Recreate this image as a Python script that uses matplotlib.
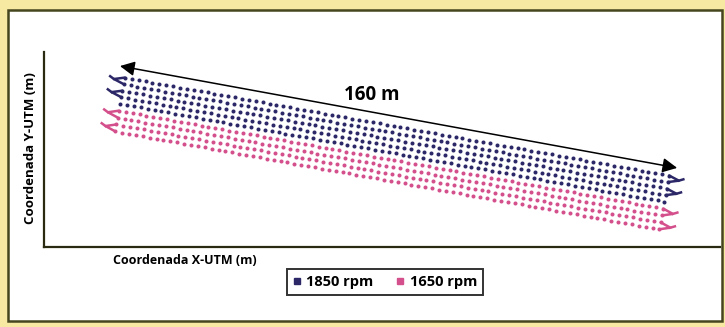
import numpy as np
import matplotlib
matplotlib.use("Agg")
import matplotlib.pyplot as plt
from matplotlib.patches import Rectangle

# ---- data (metres, relative UTM) ----
# along-track positions of GPS fixes on each pass (m)
stations = [0, 2, 4, 6, 8, 10, 12, 14, 16, 18, 20, 22, 24, 26, 28, 30, 32, 34, 36, 38,
            40, 42, 44, 46, 48, 50, 52, 54, 56, 58, 60, 62, 64, 66, 68, 70, 72, 74, 76, 78,
            80, 82, 84, 86, 88, 90, 92, 94, 96, 98, 100, 102, 104, 106, 108, 110, 112, 114,
            116, 118, 120, 122, 124, 126, 128, 130, 132, 134, 136, 138, 140, 142, 144, 146,
            148, 150, 152, 154, 156, 158]
# cross-track offset of each pass (m)
offsets_1850 = [0.0, -1.9, -3.8, -5.7, -7.6]
offsets_1650 = [-9.6, -11.6, -13.6, -15.6]
series_labels = ["1850 rpm", "1650 rpm"]
colors = ["#2c2868", "#d4508c"]
start_xy = (23.1, 48.4)      # start of first pass (m)
heading_deg = 10.2           # pass heading below east (deg)
turn_out = 3.0               # headland turn bulge (m)
dist_label = "160 m"

# ---- figure ----
W, H = 725, 327
fig = plt.figure(figsize=(W / 100, H / 100), dpi=100)
fig.patch.set_facecolor("#f7e9a2")
fig.add_artist(Rectangle((8 / W, 1 - 321 / H), (722 - 8) / W, (321 - 10) / H,
                         transform=fig.transFigure, facecolor="white",
                         edgecolor="#45451e", lw=1.8, zorder=0))

ax = fig.add_axes([44 / W, 1 - 247 / H, (720 - 44) / W, (247 - 52) / H])
ax.set_facecolor("none")
ax.set_xlim(0, 676 / 3.5)
ax.set_ylim(0, 195 / 3.5)
for s in ["top", "right"]:
    ax.spines[s].set_visible(False)
for s in ["left", "bottom"]:
    ax.spines[s].set_color("#2a2a10")
    ax.spines[s].set_linewidth(1.6)
ax.set_xticks([])
ax.set_yticks([])

th = np.deg2rad(heading_deg)
u = np.array([np.cos(th), -np.sin(th)])
n = np.array([np.sin(th), np.cos(th)])
d = np.array(stations, dtype=float)


def pass_xy(off):
    x = start_xy[0] + d * u[0] + off * n[0]
    y = start_xy[1] + d * u[1] + off * n[1]
    return x, y


def draw_turns(offs, col):
    for i in range(0, len(offs) - 1, 2):
        for end_d, sign in ((d[0], -1), (d[-1], 1)):
            a = np.array(start_xy) + end_d * u + offs[i] * n
            b = np.array(start_xy) + end_d * u + offs[i + 1] * n
            mid = (a + b) / 2 + sign * turn_out * u
            ax.plot([a[0], mid[0], b[0]], [a[1], mid[1], b[1]], color=col,
                    lw=1.8, solid_capstyle="round", zorder=2)
            tail = mid + sign * 1.2 * u + 0.6 * n
            ax.plot([mid[0], tail[0]], [mid[1], tail[1]], color=col, lw=1.8, zorder=2)


for offs, col in ((offsets_1850, colors[0]), (offsets_1650, colors[1])):
    for off in offs:
        x, y = pass_xy(off)
        ax.plot(x, y, "o", color=col, ms=2.9, mew=0, zorder=3)
    draw_turns(offs, col)

# distance arrow
a0 = (21.7, 51.7)
a1 = (180.9, 22.6)
ax.annotate("", xy=a1, xytext=a0,
            arrowprops=dict(arrowstyle="<|-|>", color="black", lw=1.1,
                            mutation_scale=22, shrinkA=0, shrinkB=0))
ax.text(93.5, 43.5, dist_label, ha="center", va="center", fontsize=13.5,
        fontweight="bold", family="Open Sans")

fig.text(113 / W, 1 - 260 / H, "Coordenada X-UTM (m)", ha="left", va="center",
         fontsize=9, fontweight="bold", family="Open Sans")
fig.text(31 / W, 1 - 148 / H, "Coordenada Y-UTM (m)", ha="center", va="center",
         rotation=90, fontsize=9.5, fontweight="bold", family="Open Sans")

h1 = plt.Line2D([], [], ls="none", marker="s", ms=4.5, color=colors[0])
h2 = plt.Line2D([], [], ls="none", marker="s", ms=4.5, color=colors[1])
leg = fig.legend([h1, h2], series_labels, loc="center",
                 bbox_to_anchor=(385 / W, 1 - 282 / H), ncol=2, frameon=True,
                 fancybox=False, handlelength=0.5, handletextpad=0.4,
                 columnspacing=1.6, borderpad=0.4, borderaxespad=0,
                 prop={"family": "Open Sans", "weight": "bold", "size": 10.5})
leg.get_frame().set_edgecolor("black")
leg.get_frame().set_linewidth(1.4)

fig.savefig("out.png", dpi=100, facecolor=fig.get_facecolor())
